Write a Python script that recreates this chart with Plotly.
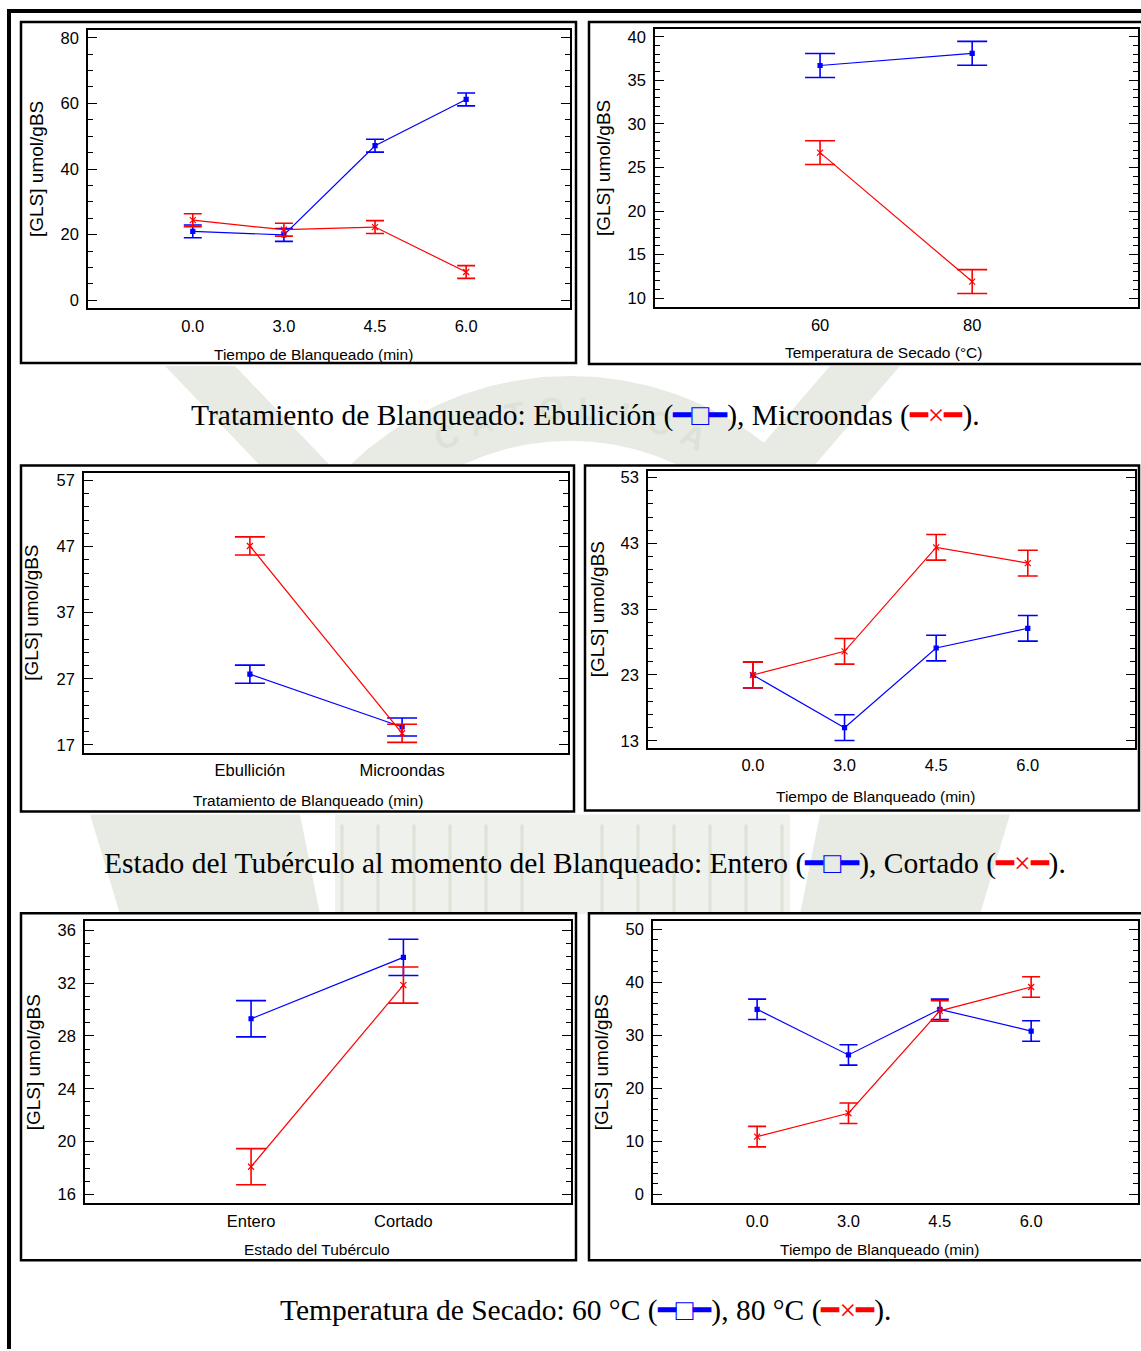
import math
import plotly.graph_objects as go

W, H = 1141, 1351

# ---------------- data ----------------
tiempo = ["0.0", "3.0", "4.5", "6.0"]
temperatura = ["60", "80"]
tratamiento = ["Ebullición", "Microondas"]
estado = ["Entero", "Cortado"]

# Panel A: tiempo de blanqueado x tratamiento
a_ebullicion = [21.0, 19.9, 47.1, 61.2]
a_microondas = [24.4, 21.5, 22.3, 8.6]
a_err = 1.95

# Panel B: temperatura de secado x tratamiento
b_ebullicion = [36.7, 38.1]
b_microondas = [26.7, 11.9]
b_err = 1.37

# Panel C: tratamiento x estado del tubérculo
c_entero = [27.7, 19.7]
c_cortado = [47.1, 18.75]
c_err = 1.37

# Panel D: tiempo de blanqueado x estado del tubérculo
d_entero = [23.0, 15.0, 27.1, 30.1]
d_cortado = [23.0, 26.6, 42.4, 40.0]
d_err = 1.95

# Panel E: estado del tubérculo x temperatura de secado
e_t60 = [29.3, 33.95]
e_t80 = [18.1, 31.85]
e_err = 1.37

# Panel F: tiempo de blanqueado x temperatura de secado
f_t60 = [34.9, 26.3, 34.9, 30.8]
f_t80 = [10.9, 15.3, 34.6, 39.1]
f_err = 1.93

y_title = "[GLS] umol/gBS"
seal_text = "CATOLICA"

# ---------------- helpers ----------------
def px(x):
    return x / W

def py(y):
    return 1 - y / H

def path(points):
    return "M " + " L ".join(f"{px(x):.5f},{py(y):.5f}" for x, y in points) + " Z"

BLUE = "#0000ff"
RED = "#ff0000"
SANS = "Liberation Sans, Arial, sans-serif"
SERIF = "Liberation Serif, Times New Roman, serif"
SEAL = "#e7ebe4"
SEAL_DARK = "#dce2d7"

fig = go.Figure()

panels = [
    dict(cats=tiempo, blue=a_ebullicion, red=a_microondas, err=a_err, cap=9,
         inner=(88, 570, 28, 307), outer=(21, 576, 20, 362),
         xr=[-1.15, 4.14], yr=[-2.4, 82.4], dt=20, t0=0, mn=5,
         xt="Tiempo de Blanqueado (min)", xtp=(313, 354), ytx=36),
    dict(cats=temperatura, blue=b_ebullicion, red=b_microondas, err=b_err, cap=15,
         inner=(655, 1138, 27, 306), outer=(589, 1145, 20, 363),
         xr=[-1.085, 2.09], yr=[8.97, 40.9], dt=5, t0=0, mn=1,
         xt="Temperatura de Secado (°C)", xtp=(883, 352), ytx=603),
    dict(cats=tratamiento, blue=c_entero, red=c_cortado, err=c_err, cap=15,
         inner=(84, 568, 472, 753), outer=(21, 574, 465, 812),
         xr=[-1.09, 2.09], yr=[15.8, 58.2], dt=10, t0=17, mn=2,
         xt="Tratamiento de Blanqueado (min)", xtp=(308, 801), ytx=32),
    dict(cats=tiempo, blue=d_entero, red=d_cortado, err=d_err, cap=10,
         inner=(648, 1135, 470, 748), outer=(585, 1139, 465, 811),
         xr=[-1.145, 4.17], yr=[11.94, 54.06], dt=10, t0=13, mn=2,
         xt="Tiempo de Blanqueado (min)", xtp=(875, 797), ytx=597),
    dict(cats=estado, blue=e_t60, red=e_t80, err=e_err, cap=15,
         inner=(85, 571, 922, 1205), outer=(21, 576, 914, 1262),
         xr=[-1.09, 2.1], yr=[15.32, 36.68], dt=4, t0=16, mn=1,
         xt="Estado del Tubérculo", xtp=(317, 1251), ytx=33),
    dict(cats=tiempo, blue=f_t60, red=f_t80, err=f_err, cap=9,
         inner=(653, 1138, 922, 1205), outer=(589, 1145, 914, 1262),
         xr=[-1.14, 4.17], yr=[-1.7, 51.5], dt=10, t0=0, mn=2,
         xt="Tiempo de Blanqueado (min)", xtp=(879, 1251), ytx=601),
]

shapes = []
annotations = []

# ---- faint seal in the page background ----
cx, cy = 570, 690
r_out, r_in = 315, 250
arc = [(cx + r_out * math.cos(math.radians(a)), cy + r_out * math.sin(math.radians(a)))
       for a in range(215, 326, 5)]
arc += [(cx + r_in * math.cos(math.radians(a)), cy + r_in * math.sin(math.radians(a)))
        for a in range(325, 214, -5)]
shapes.append(dict(type="path", xref="paper", yref="paper", path=path(arc),
                   fillcolor=SEAL, line=dict(width=0), layer="below"))
# side wings of the seal
for pts in ([(165, 365), (235, 365), (335, 470), (265, 470)],
            [(830, 365), (900, 365), (810, 470), (740, 470)],
            [(90, 815), (300, 815), (320, 915), (120, 915)],
            [(820, 815), (1010, 815), (980, 915), (800, 915)]):
    shapes.append(dict(type="path", xref="paper", yref="paper", path=path(pts),
                       fillcolor=SEAL, line=dict(width=0), layer="below"))
# open book at the centre of the seal
shapes.append(dict(type="rect", xref="paper", yref="paper", x0=px(335), x1=px(790),
                   y0=py(915), y1=py(815), fillcolor="#eef1ec", line=dict(width=0),
                   layer="below"))
for k in range(6):
    for side in (-1, 1):
        xk = 562 + side * (40 + 36 * k)
        shapes.append(dict(type="line", xref="paper", yref="paper",
                           x0=px(xk), x1=px(xk), y0=py(915), y1=py(825),
                           line=dict(color=SEAL_DARK, width=3), layer="below"))
# lettering along the seal band
n = len(seal_text)
r_mid = (r_out + r_in) / 2
for k, ch in enumerate(seal_text):
    ang = -26 + 52 * k / (n - 1)
    lx = cx + r_mid * math.sin(math.radians(ang))
    ly = cy - r_mid * math.cos(math.radians(ang))
    annotations.append(dict(text=f"<b>{ch}</b>", xref="paper", yref="paper",
                            x=px(lx), y=py(ly), textangle=ang, showarrow=False,
                            xanchor="center", yanchor="middle",
                            font=dict(family=SANS, size=32, color=SEAL_DARK)))

# page frame (top and left rules)
shapes.append(dict(type="line", xref="paper", yref="paper", x0=px(7), x1=px(1141),
                   y0=py(9), y1=py(9), line=dict(color="black", width=4), layer="above"))
shapes.append(dict(type="line", xref="paper", yref="paper", x0=px(9), x1=px(9),
                   y0=py(7), y1=py(1351), line=dict(color="black", width=4), layer="above"))

for i, p in enumerate(panels, start=1):
    xa = "x" if i == 1 else f"x{i}"
    ya = "y" if i == 1 else f"y{i}"
    x0, x1, y0, y1 = p["inner"]
    ox0, ox1, oy0, oy1 = p["outer"]

    # white panel frame
    shapes.append(dict(type="rect", xref="paper", yref="paper",
                       x0=px(ox0), x1=px(ox1), y0=py(oy1), y1=py(oy0),
                       line=dict(color="black", width=2.5), fillcolor="white", layer="below"))

    for vals, color, sym, msize in ((p["blue"], BLUE, "square", 4),
                                    (p["red"], RED, "x-thin", 6)):
        fig.add_trace(go.Scatter(
            x=p["cats"], y=vals, xaxis=xa, yaxis=ya, mode="lines+markers",
            line=dict(color=color, width=1.2),
            marker=dict(symbol=sym, size=msize, color=color,
                        line=dict(color=color, width=1.2)),
            error_y=dict(type="constant", value=p["err"], color=color,
                         thickness=1.6, width=p["cap"]),
            showlegend=False, hoverinfo="skip"))

    xkey = "xaxis" if i == 1 else f"xaxis{i}"
    ykey = "yaxis" if i == 1 else f"yaxis{i}"
    fig.layout[xkey] = dict(
        domain=[px(x0), px(x1)], anchor=ya, type="category",
        categoryorder="array", categoryarray=p["cats"],
        range=p["xr"], showgrid=False, zeroline=False, ticks="",
        showline=True, mirror=True, linecolor="black", linewidth=1.5,
        tickfont=dict(family=SANS, size=16.5, color="black"),
        ticklabelstandoff=2, fixedrange=True)
    fig.layout[ykey] = dict(
        domain=[py(y1), py(y0)], anchor=xa, range=p["yr"],
        tick0=p["t0"], dtick=p["dt"], showgrid=False, zeroline=False,
        ticks="inside", ticklen=9, tickwidth=1.3, tickcolor="black",
        minor=dict(ticks="inside", ticklen=5, tickwidth=1.1, tickcolor="black",
                   dtick=p["mn"], tick0=p["t0"], showgrid=False),
        showline=True, mirror="allticks", linecolor="black", linewidth=1.5,
        tickfont=dict(family=SANS, size=16.5, color="black"),
        ticklabelstandoff=4, fixedrange=True)

    # axis titles
    annotations.append(dict(text=p["xt"], xref="paper", yref="paper",
                            x=px(p["xtp"][0]), y=py(p["xtp"][1]),
                            xanchor="center", yanchor="middle", showarrow=False,
                            font=dict(family=SANS, size=15.5, color="black")))
    annotations.append(dict(text=y_title, xref="paper", yref="paper",
                            x=px(p["ytx"]), y=py((y0 + y1) / 2), textangle=-90,
                            xanchor="center", yanchor="middle", showarrow=False,
                            font=dict(family=SANS, size=19, color="black")))

# captions with inline series keys
blue_key = f"<span style='color:{BLUE}'>━□━</span>"
red_key = f"<span style='color:{RED}'>━×━</span>"
captions = [
    (f"Tratamiento de Blanqueado: Ebullición ({blue_key}), Microondas ({red_key}).", 415),
    (f"Estado del Tubérculo al momento del Blanqueado: Entero ({blue_key}), Cortado ({red_key}).", 864),
    (f"Temperatura de Secado: 60 °C ({blue_key}), 80 °C ({red_key}).", 1312),
]
for text, yc in captions:
    annotations.append(dict(text=text, xref="paper", yref="paper", x=px(585), y=py(yc),
                            xanchor="center", yanchor="middle", showarrow=False,
                            font=dict(family=SERIF, size=29.5, color="black")))

fig.update_layout(width=W, height=H, margin=dict(l=0, r=0, t=0, b=0),
                  paper_bgcolor="white", plot_bgcolor="rgba(0,0,0,0)",
                  shapes=shapes, annotations=annotations, showlegend=False)

fig.write_html("out.html", config={"displayModeBar": False})
